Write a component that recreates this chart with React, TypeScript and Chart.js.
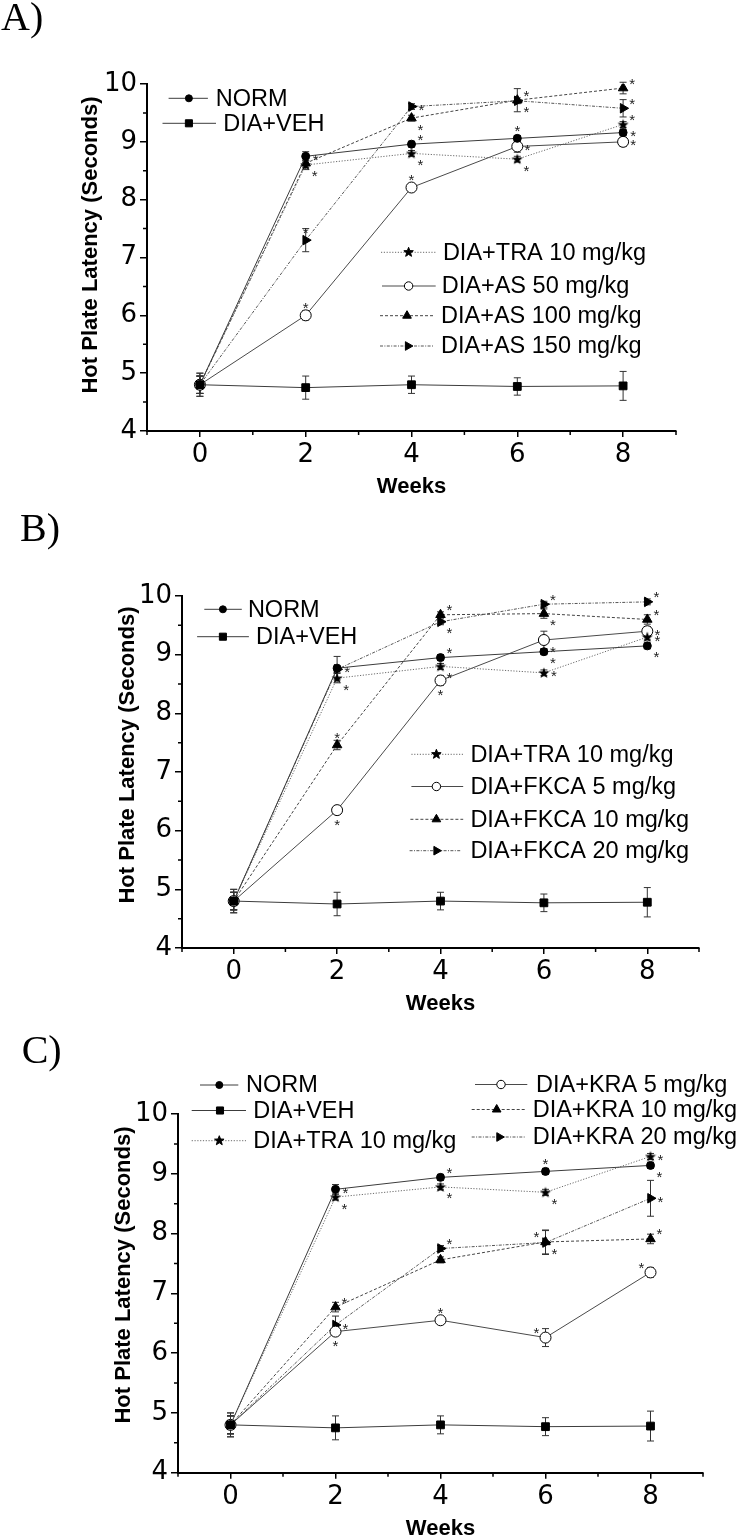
import React, { useEffect, useRef } from 'react';
import { Chart, registerables } from 'chart.js';

Chart.register(...registerables);

// ---------- data ----------
const WEEKS = [0, 2, 4, 6, 8];
const X_TICK_LABELS = ['0', '2', '4', '6', '8'];
const Y_TICKS = [4, 5, 6, 7, 8, 9, 10];
const Y_TITLE = 'Hot Plate Latency (Seconds)';
const X_TITLE = 'Weeks';

// Panel A
const A_NORM = [4.8, 8.75, 8.96, 9.06, 9.16];
const A_VEH = [4.8, 4.75, 4.8, 4.77, 4.78];
const A_TRA = [4.8, 8.6, 8.8, 8.7, 9.3];
const A_AS50 = [4.8, 6.0, 8.21, 8.92, 9.0];
const A_AS100 = [4.8, 8.63, 9.41, 9.72, 9.93];
const A_AS150 = [4.8, 7.3, 9.61, 9.71, 9.58];
const A_NORM_ERR = [0.2, 0.08, 0.05, 0.05, 0.05];
const A_VEH_ERR = [0.2, 0.2, 0.15, 0.15, 0.25];
const A_TRA_ERR = [0.15, 0.08, 0.05, 0.05, 0.05];
const A_AS50_ERR = [0.15, 0.08, 0.05, 0.1, 0.08];
const A_AS100_ERR = [0.15, 0.08, 0.05, 0.2, 0.1];
const A_AS150_ERR = [0.15, 0.2, 0.05, 0.05, 0.15];
const A_NORM_SIG = ['', 'E', 'NE', 'N', 'E'];
const A_TRA_SIG = ['', 'SE', 'SE', 'SE', 'NE'];
const A_AS50_SIG = ['', 'N', 'N', 'E', 'E'];
const A_AS100_SIG = ['', '', 'SE', 'NE', 'NE'];
const A_AS150_SIG = ['', 'N', 'E', 'SE', 'NE'];

// Panel B
const B_NORM = [4.8, 8.77, 8.95, 9.05, 9.15];
const B_VEH = [4.8, 4.75, 4.8, 4.77, 4.78];
const B_TRA = [4.8, 8.6, 8.8, 8.69, 9.3];
const B_F5 = [4.8, 6.35, 8.56, 9.25, 9.4];
const B_F10 = [4.8, 7.46, 9.68, 9.7, 9.6];
const B_F20 = [4.8, 8.75, 9.56, 9.86, 9.9];
const B_NORM_ERR = [0.2, 0.2, 0.05, 0.05, 0.05];
const B_VEH_ERR = [0.2, 0.2, 0.15, 0.15, 0.25];
const B_TRA_ERR = [0.15, 0.08, 0.05, 0.05, 0.05];
const B_F5_ERR = [0.15, 0.05, 0.08, 0.15, 0.08];
const B_F10_ERR = [0.15, 0.08, 0.05, 0.08, 0.08];
const B_F20_ERR = [0.15, 0.05, 0.05, 0.05, 0.05];
const B_NORM_SIG = ['', 'E', 'NE', 'SE', 'SE'];
const B_TRA_SIG = ['', 'SE', 'SE', 'E', 'E'];
const B_F5_SIG = ['', 'S', 'S', 'SE', 'E'];
const B_F10_SIG = ['', 'N', 'NE', 'SE', 'NE'];
const B_F20_SIG = ['', '', 'SE', 'NE', 'NE'];

// Panel C
const C_NORM = [4.8, 8.74, 8.94, 9.04, 9.14];
const C_VEH = [4.8, 4.75, 4.8, 4.77, 4.78];
const C_TRA = [4.8, 8.61, 8.78, 8.69, 9.29];
const C_K5 = [4.8, 6.36, 6.55, 6.26, 7.35];
const C_K10 = [4.8, 6.77, 7.56, 7.86, 7.91];
const C_K20 = [4.8, 6.47, 7.75, 7.85, 8.59];
const C_NORM_ERR = [0.2, 0.08, 0.05, 0.05, 0.05];
const C_VEH_ERR = [0.2, 0.2, 0.15, 0.15, 0.25];
const C_TRA_ERR = [0.15, 0.05, 0.05, 0.05, 0.05];
const C_K5_ERR = [0.15, 0.05, 0.05, 0.15, 0.08];
const C_K10_ERR = [0.15, 0.08, 0.05, 0.2, 0.08];
const C_K20_ERR = [0.15, 0.15, 0.05, 0.2, 0.3];
const C_NORM_SIG = ['', 'E', 'NE', 'N', 'SE'];
const C_TRA_SIG = ['', 'SE', 'SE', 'SE', 'E'];
const C_K5_SIG = ['', 'S', 'N', 'NW', 'NW'];
const C_K10_SIG = ['', 'NE', '', 'NW', 'NE'];
const C_K20_SIG = ['', 'E', 'NE', 'SE', 'E'];

// ---------- styles ----------
type Kind = 'circle' | 'square' | 'star' | 'open' | 'tri' | 'triR';
const KIND_STYLE: Record<Kind, { dash: number[]; color: string; radius: number; legendR: number }> = {
  circle: { dash: [], color: '#3c3c3c', radius: 4, legendR: 3.5 },
  square: { dash: [], color: '#3c3c3c', radius: 5.5, legendR: 5 },
  star: { dash: [1.2, 1.6], color: '#6a6a6a', radius: 5.5, legendR: 5 },
  open: { dash: [], color: '#4a4a4a', radius: 5.5, legendR: 4.2 },
  tri: { dash: [3, 2], color: '#444', radius: 5.5, legendR: 5 },
  triR: { dash: [3, 1.4, 1, 1.4], color: '#555', radius: 5.5, legendR: 5 },
};
const SIG_OFFSET: Record<string, [number, number]> = {
  N: [0, -11], NE: [9, -8], E: [10, 0], SE: [9, 8], S: [0, 11], NW: [-9, -8],
};
const TICK_FONT = { family: '"DejaVu Sans", sans-serif', size: 26 };
const TITLE_FONT = 'bold 22px "Liberation Sans", Arial, sans-serif';
const LEGEND_FONT = '23.5px "Liberation Sans", Arial, sans-serif';

interface Series { label: string; kind: Kind; values: number[]; err: number[]; sig: string[] }
interface LegendPos { x1: number; x2: number; mx: number; tx: number; y: number }
interface PanelCfg {
  name: string; top: number; height: number; padBottom: number;
  left: number; right: number; areaTop: number; areaBottom: number;
  yTitleX: number; yTitleY: number; labelLeft: number; labelTop: number;
  series: Series[]; legend: LegendPos[];
}

const PANELS: PanelCfg[] = [
  {
    name: 'A)', top: 0, height: 500, padBottom: 0, left: 147, right: 676, areaTop: 84, areaBottom: 431,
    yTitleX: 91, yTitleY: 245, labelLeft: 1, labelTop: -3.5,
    series: [
      { label: 'NORM', kind: 'circle', values: A_NORM, err: A_NORM_ERR, sig: A_NORM_SIG },
      { label: 'DIA+VEH', kind: 'square', values: A_VEH, err: A_VEH_ERR, sig: [] },
      { label: 'DIA+TRA 10 mg/kg', kind: 'star', values: A_TRA, err: A_TRA_ERR, sig: A_TRA_SIG },
      { label: 'DIA+AS 50 mg/kg', kind: 'open', values: A_AS50, err: A_AS50_ERR, sig: A_AS50_SIG },
      { label: 'DIA+AS 100 mg/kg', kind: 'tri', values: A_AS100, err: A_AS100_ERR, sig: A_AS100_SIG },
      { label: 'DIA+AS 150 mg/kg', kind: 'triR', values: A_AS150, err: A_AS150_ERR, sig: A_AS150_SIG },
    ],
    legend: [
      { x1: 168.6, x2: 207.9, mx: 188.9, tx: 215.7, y: 98.3 },
      { x1: 162.5, x2: 216, mx: 188.9, tx: 223.2, y: 123.3 },
      { x1: 381, x2: 436.4, mx: 408.6, tx: 442.9, y: 252.3 },
      { x1: 382, x2: 435.7, mx: 408.6, tx: 441.8, y: 286 },
      { x1: 380, x2: 433.6, mx: 407, tx: 441, y: 315.7 },
      { x1: 380, x2: 433.6, mx: 407.9, tx: 441, y: 346 },
    ],
  },
  {
    name: 'B)', top: 500, height: 520, padBottom: 3, left: 182, right: 699, areaTop: 96, areaBottom: 448,
    yTitleX: 127.5, yTitleY: 255, labelLeft: 20, labelTop: 508,
    series: [
      { label: 'NORM', kind: 'circle', values: B_NORM, err: B_NORM_ERR, sig: B_NORM_SIG },
      { label: 'DIA+VEH', kind: 'square', values: B_VEH, err: B_VEH_ERR, sig: [] },
      { label: 'DIA+TRA 10 mg/kg', kind: 'star', values: B_TRA, err: B_TRA_ERR, sig: B_TRA_SIG },
      { label: 'DIA+FKCA 5 mg/kg', kind: 'open', values: B_F5, err: B_F5_ERR, sig: B_F5_SIG },
      { label: 'DIA+FKCA 10 mg/kg', kind: 'tri', values: B_F10, err: B_F10_ERR, sig: B_F10_SIG },
      { label: 'DIA+FKCA 20 mg/kg', kind: 'triR', values: B_F20, err: B_F20_ERR, sig: B_F20_SIG },
    ],
    legend: [
      { x1: 204.3, x2: 241.8, mx: 222.9, tx: 247.9, y: 109.3 },
      { x1: 197.1, x2: 248.9, mx: 222.9, tx: 256.1, y: 136.7 },
      { x1: 411.4, x2: 463.2, mx: 436.4, tx: 470.4, y: 254.3 },
      { x1: 411.4, x2: 463.2, mx: 436.4, tx: 470.4, y: 286.5 },
      { x1: 410.4, x2: 463.2, mx: 436.4, tx: 470.4, y: 319.3 },
      { x1: 409.6, x2: 461.4, mx: 436.4, tx: 470.4, y: 350.7 },
    ],
  },
  {
    name: 'C)', top: 1020, height: 525, padBottom: 3, left: 178, right: 703, areaTop: 94, areaBottom: 452.7,
    yTitleX: 124, yTitleY: 255, labelLeft: 21.7, labelTop: 1029.5,
    series: [
      { label: 'NORM', kind: 'circle', values: C_NORM, err: C_NORM_ERR, sig: C_NORM_SIG },
      { label: 'DIA+VEH', kind: 'square', values: C_VEH, err: C_VEH_ERR, sig: [] },
      { label: 'DIA+TRA 10 mg/kg', kind: 'star', values: C_TRA, err: C_TRA_ERR, sig: C_TRA_SIG },
      { label: 'DIA+KRA 5 mg/kg', kind: 'open', values: C_K5, err: C_K5_ERR, sig: C_K5_SIG },
      { label: 'DIA+KRA 10 mg/kg', kind: 'tri', values: C_K10, err: C_K10_ERR, sig: C_K10_SIG },
      { label: 'DIA+KRA 20 mg/kg', kind: 'triR', values: C_K20, err: C_K20_ERR, sig: C_K20_SIG },
    ],
    legend: [
      { x1: 200, x2: 238.3, mx: 219.3, tx: 246, y: 65 },
      { x1: 191.7, x2: 246, mx: 220, tx: 253.3, y: 90.5 },
      { x1: 191.7, x2: 246, mx: 219.3, tx: 253.3, y: 120.7 },
      { x1: 475, x2: 527.3, mx: 501, tx: 536, y: 64.5 },
      { x1: 471.7, x2: 525, mx: 496.7, tx: 532.7, y: 89.5 },
      { x1: 471.7, x2: 525, mx: 499.3, tx: 532.7, y: 117 },
    ],
  },
];

// ---------- drawing helpers ----------
function starPath(ctx: CanvasRenderingContext2D, x: number, y: number, R: number) {
  const r = R * 0.42;
  ctx.moveTo(x, y - R);
  for (let i = 1; i < 10; i++) {
    const a = -Math.PI / 2 + (i * Math.PI) / 5;
    const rr = i % 2 === 0 ? R : r;
    ctx.lineTo(x + Math.cos(a) * rr, y + Math.sin(a) * rr);
  }
  ctx.closePath();
}

let starCanvas: HTMLCanvasElement | null = null;
function getStar(): HTMLCanvasElement {
  if (starCanvas) return starCanvas;
  const c = document.createElement('canvas');
  c.width = 12; c.height = 12;
  const ctx = c.getContext('2d')!;
  ctx.fillStyle = '#000';
  ctx.beginPath();
  starPath(ctx, 6, 6.4, 5.8);
  ctx.fill();
  starCanvas = c;
  return c;
}

function drawMarker(ctx: CanvasRenderingContext2D, kind: Kind, x: number, y: number, r: number) {
  ctx.save();
  ctx.setLineDash([]);
  ctx.lineWidth = 1;
  ctx.strokeStyle = '#000';
  ctx.fillStyle = kind === 'open' ? '#fff' : '#000';
  ctx.beginPath();
  if (kind === 'circle' || kind === 'open') {
    ctx.arc(x, y, r, 0, Math.PI * 2);
  } else if (kind === 'square') {
    const s = r * Math.SQRT1_2;
    ctx.rect(x - s, y - s, 2 * s, 2 * s);
  } else if (kind === 'tri' || kind === 'triR') {
    const start = kind === 'tri' ? -Math.PI / 2 : 0;
    for (let i = 0; i < 3; i++) {
      const a = start + (i * 2 * Math.PI) / 3;
      const px = x + Math.cos(a) * r;
      const py = y + Math.sin(a) * r;
      if (i === 0) ctx.moveTo(px, py); else ctx.lineTo(px, py);
    }
    ctx.closePath();
  } else if (kind === 'star') {
    starPath(ctx, x, y, r);
  }
  ctx.fill();
  ctx.stroke();
  ctx.restore();
}

function makePlugin(p: PanelCfg) {
  return {
    id: 'panelExtras',
    beforeDatasetsDraw(chart: any) {
      const ctx: CanvasRenderingContext2D = chart.ctx;
      const ys = chart.scales.y;
      ctx.save();
      ctx.strokeStyle = '#333';
      ctx.lineWidth = 1;
      p.series.forEach((s, i) => {
        const meta = chart.getDatasetMeta(i);
        meta.data.forEach((pt: any, j: number) => {
          const e = s.err[j];
          if (!e) return;
          const y1 = ys.getPixelForValue(s.values[j] + e);
          const y2 = ys.getPixelForValue(s.values[j] - e);
          ctx.beginPath();
          ctx.moveTo(pt.x, y1); ctx.lineTo(pt.x, y2);
          ctx.moveTo(pt.x - 3.5, y1); ctx.lineTo(pt.x + 3.5, y1);
          ctx.moveTo(pt.x - 3.5, y2); ctx.lineTo(pt.x + 3.5, y2);
          ctx.stroke();
        });
      });
      ctx.restore();
    },
    afterDatasetsDraw(chart: any) {
      const ctx: CanvasRenderingContext2D = chart.ctx;
      ctx.save();
      ctx.fillStyle = '#222';
      ctx.font = '15px "Liberation Sans", Arial, sans-serif';
      ctx.textAlign = 'center';
      ctx.textBaseline = 'alphabetic';
      p.series.forEach((s, i) => {
        const meta = chart.getDatasetMeta(i);
        meta.data.forEach((pt: any, j: number) => {
          const code = s.sig[j];
          if (!code) return;
          const [dx, dy] = SIG_OFFSET[code];
          ctx.fillText('*', pt.x + dx, pt.y + dy + 8.5);
        });
      });
      ctx.restore();
    },
    afterDraw(chart: any) {
      const ctx: CanvasRenderingContext2D = chart.ctx;
      const xs = chart.scales.x;
      const ys = chart.scales.y;
      const area = chart.chartArea;
      ctx.save();
      // minor ticks
      ctx.strokeStyle = '#000';
      ctx.lineWidth = 1.5;
      ctx.beginPath();
      for (let v = 4.5; v < 10; v += 1) {
        const py = ys.getPixelForValue(v);
        ctx.moveTo(area.left - 4, py); ctx.lineTo(area.left, py);
      }
      for (let v = -1; v <= 9; v += 2) {
        const px = xs.getPixelForValue(v);
        ctx.moveTo(px, area.bottom); ctx.lineTo(px, area.bottom + 4);
      }
      ctx.stroke();
      // y title
      ctx.save();
      ctx.translate(p.yTitleX, p.yTitleY);
      ctx.rotate(-Math.PI / 2);
      ctx.font = TITLE_FONT;
      ctx.fillStyle = '#000';
      ctx.textAlign = 'center';
      ctx.textBaseline = 'middle';
      ctx.fillText(Y_TITLE, 0, 0);
      ctx.restore();
      // legend
      p.legend.forEach((l, i) => {
        const s = p.series[i];
        const st = KIND_STYLE[s.kind];
        ctx.save();
        ctx.strokeStyle = st.color;
        ctx.lineWidth = 1;
        ctx.setLineDash(st.dash);
        ctx.beginPath();
        ctx.moveTo(l.x1, l.y); ctx.lineTo(l.x2, l.y);
        ctx.stroke();
        ctx.restore();
        drawMarker(ctx, s.kind, l.mx, l.y, st.legendR);
        ctx.font = LEGEND_FONT;
        ctx.fillStyle = '#000';
        ctx.textAlign = 'left';
        ctx.textBaseline = 'middle';
        ctx.fillText(s.label, l.tx, l.y + 1);
      });
      ctx.restore();
    },
  };
}

function buildConfig(p: PanelCfg): any {
  const star = getStar();
  const datasets = p.series.map((s) => {
    const st = KIND_STYLE[s.kind];
    return {
      label: s.label,
      data: WEEKS.map((w, i) => ({ x: w, y: s.values[i] })),
      borderColor: st.color,
      borderWidth: 1,
      borderDash: st.dash,
      pointStyle: s.kind === 'star' ? star : s.kind === 'square' ? 'rect' : (s.kind === 'tri' || s.kind === 'triR') ? 'triangle' : 'circle',
      rotation: s.kind === 'triR' ? 90 : 0,
      pointRadius: st.radius,
      pointBackgroundColor: s.kind === 'open' ? '#fff' : '#000',
      pointBorderColor: '#000',
      pointBorderWidth: 1,
      tension: 0,
      fill: false,
    };
  });
  const xHeight = p.height - p.padBottom - p.areaBottom;
  return {
    type: 'line',
    data: { datasets },
    options: {
      animation: false,
      responsive: false,
      devicePixelRatio: 1,
      layout: { padding: { left: 0, top: p.areaTop, right: 738 - p.right, bottom: p.padBottom } },
      plugins: { legend: { display: false }, tooltip: { enabled: false } },
      scales: {
        x: {
          type: 'linear', min: -1, max: 9,
          afterBuildTicks: (s: any) => { s.ticks = WEEKS.map((v) => ({ value: v })); },
          afterFit: (s: any) => { s.height = xHeight; },
          ticks: {
            callback: (_v: any, idx: number) => X_TICK_LABELS[idx],
            font: TICK_FONT, color: '#000', padding: 3, maxRotation: 0, autoSkip: false,
          },
          grid: { drawOnChartArea: false, drawTicks: true, tickLength: 6, color: '#000', lineWidth: 1.5 },
          border: { display: true, color: '#000', width: 2 },
          title: {
            display: true, text: X_TITLE, color: '#000',
            font: { family: '"Liberation Sans", Arial, sans-serif', size: 22, weight: 'bold' },
            padding: { top: 0, bottom: 0 },
          },
        },
        y: {
          type: 'linear', min: 4, max: 10,
          afterBuildTicks: (s: any) => { s.ticks = Y_TICKS.map((v) => ({ value: v })); },
          afterFit: (s: any) => { s.width = p.left; },
          ticks: { font: TICK_FONT, color: '#000', padding: 3, callback: (v: any) => String(v) },
          grid: { drawOnChartArea: false, drawTicks: true, tickLength: 7, color: '#000', lineWidth: 1.5 },
          border: { display: true, color: '#000', width: 2 },
        },
      },
    },
    plugins: [makePlugin(p)],
  };
}

function Panel({ p }: { p: PanelCfg }) {
  const ref = useRef<HTMLCanvasElement>(null);
  useEffect(() => {
    if (!ref.current) return;
    const chart = new Chart(ref.current, buildConfig(p));
    return () => chart.destroy();
  }, [p]);
  return (
    <>
      <canvas
        ref={ref}
        width={738}
        height={p.height}
        style={{ position: 'absolute', left: 0, top: p.top, width: 738, height: p.height }}
      />
      <div
        style={{
          position: 'absolute', left: p.labelLeft, top: p.labelTop,
          font: '40px "Liberation Serif", "Times New Roman", serif', lineHeight: '40px', color: '#000',
          whiteSpace: 'nowrap',
        }}
      >
        {p.name}
      </div>
    </>
  );
}

export default function App() {
  return (
    <div
      style={{
        position: 'absolute', left: 0, top: 0, width: 738, height: 1538,
        overflow: 'hidden', background: '#fff',
      }}
    >
      {PANELS.map((p) => (
        <Panel key={p.name} p={p} />
      ))}
    </div>
  );
}
